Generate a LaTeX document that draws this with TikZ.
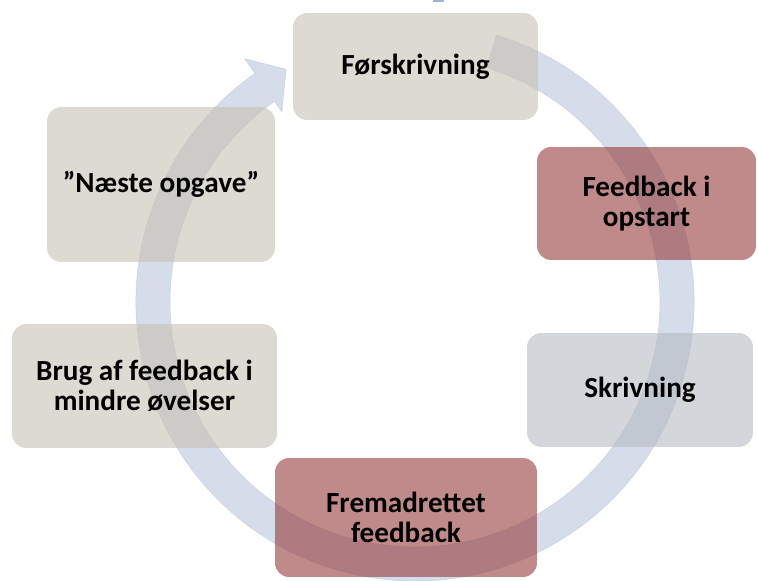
\documentclass[tikz,border=0pt]{standalone}
\usepackage{fontspec}
\setmainfont{Carlito}
\definecolor{ringblue}{HTML}{D5DCEA}
\definecolor{ringedge}{HTML}{CAD1DE}
\definecolor{boxsand}{HTML}{C6C1B2}
\definecolor{boxred}{HTML}{943C3A}
\definecolor{boxgrey}{HTML}{B6BBC1}
\definecolor{topblue}{HTML}{9FB3D3}
\begin{document}
\begin{tikzpicture}[x=0.02cm,y=0.02cm,
  stage/.style={rounded corners=8pt,fill opacity=0.6,text opacity=1,
    align=center,font=\fontsize{16.6}{17.2}\selectfont\bfseries},
  sand/.style={stage,fill=boxsand},
  rose/.style={stage,fill=boxred},
  grey/.style={stage,fill=boxgrey}]
\useasboundingbox (0,0) rectangle (758,581);
\coordinate (c) at (415,279);
% the round arrow
\begin{scope}[shift={(c)}]
\filldraw[fill=ringblue,draw=ringedge,line width=0.3pt]
  (73:279) arc[start angle=73,end angle=-235,radius=279]
  -- (125:297) -- (119:266) -- (125:232) -- (125:245)
  arc[start angle=125,end angle=433,radius=245] -- cycle;
\end{scope}
\fill[topblue] (433,579) rectangle (444,581);
% the six steps
\node[sand,minimum width=4.9cm,minimum height=2.14cm] (forskriv) at (415.5,514.5) {Førskrivning};
\node[rose,minimum width=4.38cm,minimum height=2.26cm] (opstart) at (646.5,377.5) {Feedback i\\opstart};
\node[grey,minimum width=4.52cm,minimum height=2.28cm] (skriv) at (640,191) {Skrivning};
\node[rose,minimum width=5.24cm,minimum height=2.38cm] (fremad) at (406,63.5) {Fremadrettet\\feedback};
\node[sand,minimum width=5.3cm,minimum height=2.48cm] (brug) at (144.5,195) {Brug af feedback i\\mindre øvelser};
\node[sand,minimum width=4.56cm,minimum height=3.1cm] (naeste) at (161,396.5) {”Næste opgave”};
\end{tikzpicture}
\end{document}
